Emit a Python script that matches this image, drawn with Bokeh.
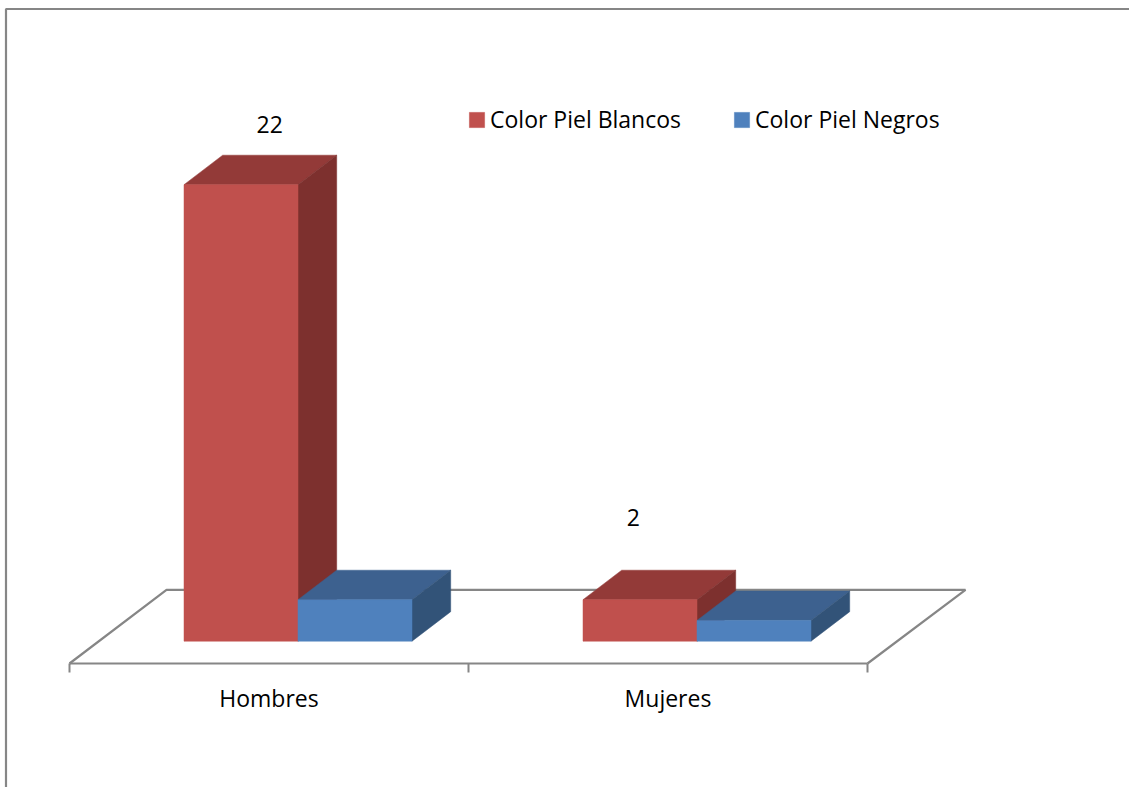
from bokeh.plotting import figure
from bokeh.models import ColumnDataSource, FixedTicker, Legend, LegendItem, Range1d
from bokeh.core.properties import value
from bokeh.embed import file_html
from bokeh.resources import INLINE

categories = ["Hombres", "Mujeres"]
series_names = ["Color Piel Blancos", "Color Piel Negros"]
blancos = [22, 2]
negros = [2, 1]

# ---- layout (pixels) ----
W, H = 1129, 787
AX_X0, AX_Y0 = 69, 663
CAT_PX = 399
UNIT_PX = 20.75
BASE_Y = 640.7
BAR_PX, PAD_PX = 114.0, 114.5
DX_PX, DY_PX = 38.7, 29.5
FONT = "Open Sans"
GRAY = "#868686"
RED = ("#C0504D", "#933A38", "#7D302E")
BLUE = ("#4F81BD", "#3D618F", "#325378")

ux = 1 / CAT_PX
uy = 1 / UNIT_PX
floor_y = -(AX_Y0 - BASE_Y) * uy


def X(px):
    return (px - AX_X0) * ux


def Y(px):
    return (BASE_Y - px) * uy


p = figure(width=W, height=H, output_backend="svg", toolbar_location=None,
           x_range=Range1d(X(0), X(W)), y_range=Range1d(Y(H), Y(0)),
           min_border_left=0, min_border_right=0, min_border_top=0, min_border_bottom=0,
           outline_line_color=None, background_fill_color="white")
p.styles = {"position": "absolute", "left": "0px", "top": "0px"}
p.grid.visible = False
p.yaxis.visible = False

ax = p.xaxis[0]
ax.fixed_location = floor_y
ax.ticker = FixedTicker(ticks=[0.5, 1.5], minor_ticks=[0, 1, 2])
ax.major_label_overrides = {0.5: categories[0], 1.5: categories[1]}
ax.bounds = (0, 2)
ax.axis_line_color = GRAY
ax.axis_line_width = 2.2
ax.major_tick_line_color = None
ax.minor_tick_line_color = GRAY
ax.minor_tick_line_width = 2
ax.minor_tick_out = 9
ax.minor_tick_in = 0
ax.major_tick_out = 0
ax.major_tick_in = 0
ax.major_label_standoff = 9
ax.major_label_text_font = FONT
ax.major_label_text_font_size = "23px"
ax.major_label_text_color = "#000000"

# chart border (runs off the right and bottom of the page)
p.line([X(5.5), X(5.5), X(W + 5)], [Y(H + 5), Y(8.5), Y(8.5)],
       line_color=GRAY, line_width=2.2)

# floor
p.line([0, X(166), X(965), 2], [floor_y, Y(589.3), Y(589.3), floor_y],
       line_color=GRAY, line_width=2.2)

dx, dy = DX_PX * ux, DY_PX * uy
bw, pad = BAR_PX * ux, PAD_PX * ux
renderers = []
for s, (vals, cols) in enumerate(((blancos, RED), (negros, BLUE))):
    left = [i + pad + s * bw for i in range(len(vals))]
    right = [l + bw for l in left]
    top_xs = [[l, l + dx, r + dx, r] for l, r in zip(left, right)]
    top_ys = [[v, v + dy, v + dy, v] for v in vals]
    side_xs = [[r, r + dx, r + dx, r] for r in right]
    side_ys = [[v, v + dy, dy, 0] for v in vals]
    p.patches(top_xs, top_ys, fill_color=cols[1], line_color=cols[1], line_width=0.5)
    p.patches(side_xs, side_ys, fill_color=cols[2], line_color=cols[2], line_width=0.5)
    renderers.append(p.quad(left=left, right=right, bottom=0, top=vals,
                            fill_color=cols[0], line_color=cols[0], line_width=0.5))

# data labels (values of the Blancos series)
lab_x_off = [85.7, 50.3]
lab_y_off = [-60, -82]
src = ColumnDataSource(dict(
    x=[i + pad for i in range(2)], y=blancos, t=[str(v) for v in blancos],
    xo=lab_x_off, yo=lab_y_off))
p.text(x="x", y="y", text="t", x_offset="xo", y_offset="yo", source=src,
       text_font=value(FONT), text_font_size="23px", text_color="#000000",
       text_align="center", text_baseline="middle")

legend = Legend(items=[LegendItem(label=series_names[i], renderers=[renderers[i]]) for i in range(2)],
                orientation="horizontal", location=(467, H - 135), padding=0, margin=0,
                spacing=51, glyph_width=19, glyph_height=19, label_standoff=4,
                border_line_color=None, background_fill_alpha=0,
                label_text_font=FONT, label_text_font_size="23px", label_text_color="#000000")
p.add_layout(legend, "center")

open("out.html", "w").write(file_html(p, INLINE))
